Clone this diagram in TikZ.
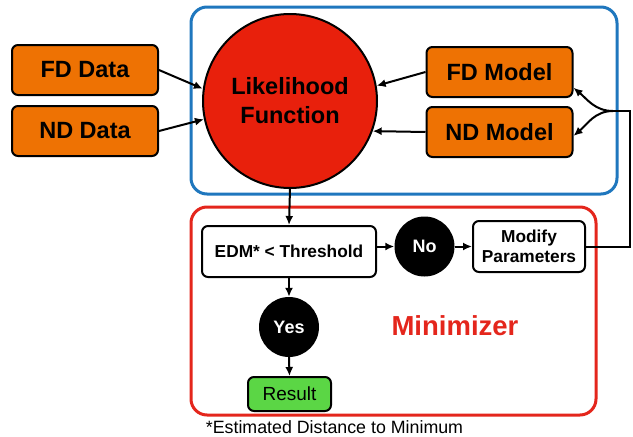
\documentclass[tikz,border=0pt]{standalone}
\usepackage{fontspec}
\setmainfont{Liberation Sans}
\usetikzlibrary{arrows.meta}
\definecolor{boxorange}{HTML}{EE7203}
\definecolor{lhred}{HTML}{E8200C}
\definecolor{frameblue}{HTML}{1F77BE}
\definecolor{framered}{HTML}{E4261C}
\definecolor{resgreen}{HTML}{5BD645}
\begin{document}
\begin{tikzpicture}[x=1pt,y=-1pt,
    frame/.style={line width=3pt, rounded corners=16pt},
    inbox/.style={draw, line width=2pt, rounded corners=6pt, fill=boxorange,
        minimum width=146pt, minimum height=50pt, font=\bfseries\fontsize{23.5}{28}\selectfont},
    stepbox/.style={draw, line width=2pt, rounded corners=6pt, fill=white, align=center, inner sep=0pt},
    answer/.style={circle, fill=black, text=white, minimum size=60pt, inner sep=0pt,
        font=\bfseries\fontsize{18}{22}\selectfont},
    link/.style={line width=2pt, -{Latex[length=9pt,width=8pt]}}]
    \useasboundingbox (0,0) rectangle (633,437);

    \draw[frame, frameblue] (191,7) rectangle (617,194);
    \draw[frame, framered] (191,207) rectangle (596,415);

    \node[inbox] (fdd) at (85,70) {FD Data};
    \node[inbox] (ndd) at (85,131) {ND Data};
    \node[inbox] (fdm) at (499.5,72) {FD Model};
    \node[inbox] (ndm) at (499.5,132) {ND Model};

    \node[circle, draw, line width=2pt, fill=lhred, minimum size=174pt, inner sep=0pt,
        align=center, font=\bfseries\fontsize{23.5}{29}\selectfont] (lh) at (290,101) {Likelihood\\Function};

    \node[stepbox, minimum width=174pt, minimum height=51pt,
        font=\bfseries\fontsize{17.3}{20}\selectfont] (edm) at (289,251.5) {EDM* < Threshold};
    \node[answer] (no) at (424.5,246.5) {No};
    \node[stepbox, minimum width=112pt, minimum height=51pt,
        font=\bfseries\fontsize{17.3}{20}\selectfont] (mod) at (529,246.5) {Modify\\Parameters};
    \node[answer] (yes) at (289,327) {Yes};
    \node[stepbox, fill=resgreen, minimum width=83pt, minimum height=34pt,
        font=\fontsize{19}{22}\selectfont] (res) at (289.5,394) {Result};

    \node[text=framered, font=\bfseries\fontsize{27.5}{32}\selectfont] (minz) at (455,326) {Minimizer};
    \node[font=\fontsize{17.8}{21}\selectfont] (note) at (334.5,427) {*Estimated Distance to Minimum};

    \coordinate (fbr) at (630,111);
    \coordinate (fbs) at (613,111);

    \draw[link] (fdd.east) -- (lh.172);
    \draw[link] (ndd.east) -- (lh.192);
    \draw[link] (fdm.west) -- (lh.10);
    \draw[link] (ndm.west) -- (lh.-20);
    \draw[link] (lh.south) -- (edm.north);
    \draw[link] (edm.east |- no.west) -- (no.west);
    \draw[link] (no.east) -- (mod.west);
    \draw[link] (edm.south) -- (yes.north);
    \draw[link] (yes.south) -- (res.north);
    \draw[line width=2pt] (mod.east) -| (fbr) -- (fbs);
    \draw[link] (fbs) to[out=180, in=-40] (fdm.-12);
    \draw[link] (fbs) to[out=180, in=40] (ndm.-3);
\end{tikzpicture}
\end{document}
